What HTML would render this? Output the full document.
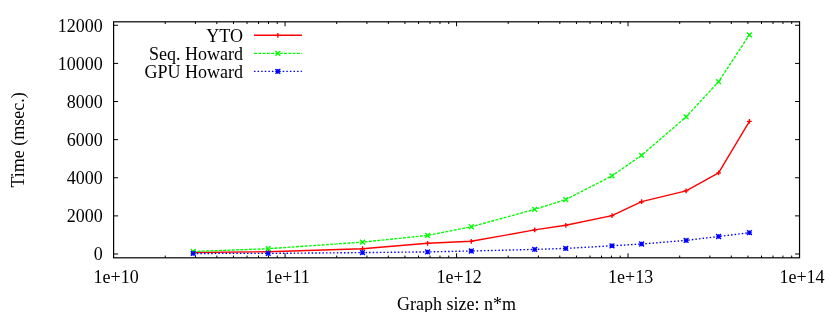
<!DOCTYPE html>
<html><head><meta charset="utf-8"><title>plot</title>
<style>
html,body{margin:0;padding:0;background:#fff;}
body{width:830px;height:312px;overflow:hidden;}
svg{display:block;will-change:transform;}
text{font-family:"Liberation Serif",serif;font-size:18.0px;fill:#000;}
</style></head><body>
<svg width="830" height="312" viewBox="0 0 830 312">
<rect width="830" height="312" fill="#fff"/>
<path d="M113.6 254.00h4.5M799.55 254.00h-4.5M113.6 215.88h4.5M799.55 215.88h-4.5M113.6 177.76h4.5M799.55 177.76h-4.5M113.6 139.64h4.5M799.55 139.64h-4.5M113.6 101.52h4.5M799.55 101.52h-4.5M113.6 63.40h4.5M799.55 63.40h-4.5M113.6 25.28h4.5M799.55 25.28h-4.5M165.22 257.8v-2.25M165.22 21.8v2.25M195.42 257.8v-2.25M195.42 21.8v2.25M216.85 257.8v-2.25M216.85 21.8v2.25M233.46 257.8v-2.25M233.46 21.8v2.25M247.04 257.8v-2.25M247.04 21.8v2.25M258.52 257.8v-2.25M258.52 21.8v2.25M268.47 257.8v-2.25M268.47 21.8v2.25M277.24 257.8v-2.25M277.24 21.8v2.25M285.09 257.8v-4.5M285.09 21.8v4.5M336.71 257.8v-2.25M336.71 21.8v2.25M366.91 257.8v-2.25M366.91 21.8v2.25M388.33 257.8v-2.25M388.33 21.8v2.25M404.95 257.8v-2.25M404.95 21.8v2.25M418.53 257.8v-2.25M418.53 21.8v2.25M430.01 257.8v-2.25M430.01 21.8v2.25M439.96 257.8v-2.25M439.96 21.8v2.25M448.73 257.8v-2.25M448.73 21.8v2.25M456.57 257.8v-4.5M456.57 21.8v4.5M508.20 257.8v-2.25M508.20 21.8v2.25M538.40 257.8v-2.25M538.40 21.8v2.25M559.82 257.8v-2.25M559.82 21.8v2.25M576.44 257.8v-2.25M576.44 21.8v2.25M590.02 257.8v-2.25M590.02 21.8v2.25M601.50 257.8v-2.25M601.50 21.8v2.25M611.44 257.8v-2.25M611.44 21.8v2.25M620.22 257.8v-2.25M620.22 21.8v2.25M628.06 257.8v-4.5M628.06 21.8v4.5M679.69 257.8v-2.25M679.69 21.8v2.25M709.88 257.8v-2.25M709.88 21.8v2.25M731.31 257.8v-2.25M731.31 21.8v2.25M747.93 257.8v-2.25M747.93 21.8v2.25M761.51 257.8v-2.25M761.51 21.8v2.25M772.99 257.8v-2.25M772.99 21.8v2.25M782.93 257.8v-2.25M782.93 21.8v2.25M791.70 257.8v-2.25M791.70 21.8v2.25" stroke="#000" stroke-width="1" fill="none"/>
<rect x="113.6" y="21.8" width="685.9499999999999" height="236.0" fill="none" stroke="#000" stroke-width="1.2"/>
<text x="102.8" y="260.40" text-anchor="end">0</text>
<text x="102.8" y="222.18" text-anchor="end">2000</text>
<text x="102.8" y="184.01" text-anchor="end">4000</text>
<text x="102.8" y="145.89" text-anchor="end">6000</text>
<text x="102.8" y="108.42" text-anchor="end">8000</text>
<text x="102.8" y="70.30" text-anchor="end">10000</text>
<text x="102.8" y="32.48" text-anchor="end">12000</text>
<text x="116.10" y="282.6" text-anchor="middle">1e+10</text>
<text x="287.59" y="282.6" text-anchor="middle">1e+11</text>
<text x="459.07" y="282.6" text-anchor="middle">1e+12</text>
<text x="630.56" y="282.6" text-anchor="middle">1e+13</text>
<text x="802.05" y="282.6" text-anchor="middle">1e+14</text>
<text x="456.6" y="309.6" text-anchor="middle">Graph size: n*m</text>
<text transform="translate(24,139.9) rotate(-90)" text-anchor="middle">Time (msec.)</text>
<text x="242.9" y="42.00" text-anchor="end">YTO</text>
<text x="242.9" y="60.20" text-anchor="end">Seq. Howard</text>
<text x="242.9" y="78.30" text-anchor="end">GPU Howard</text>
<path d="M193.20 252.50L268.20 251.70L362.50 248.70L427.60 243.30L471.30 241.30L534.70 229.90L565.80 225.30L612.00 215.60L641.60 201.70L686.10 190.90L718.60 172.90L749.40 121.30M254.0 35.3H301.9" stroke="#ff0000" stroke-width="1.38" fill="none" stroke-linejoin="round"/>
<path d="M190.80 252.50h4.8M193.20 250.10v4.8M265.80 251.70h4.8M268.20 249.30v4.8M360.10 248.70h4.8M362.50 246.30v4.8M425.20 243.30h4.8M427.60 240.90v4.8M468.90 241.30h4.8M471.30 238.90v4.8M532.30 229.90h4.8M534.70 227.50v4.8M563.40 225.30h4.8M565.80 222.90v4.8M609.60 215.60h4.8M612.00 213.20v4.8M639.20 201.70h4.8M641.60 199.30v4.8M683.70 190.90h4.8M686.10 188.50v4.8M716.20 172.90h4.8M718.60 170.50v4.8M747.00 121.30h4.8M749.40 118.90v4.8M277.85 32.9v4.8" stroke="#ff0000" stroke-width="1.35" fill="none"/>
<path d="M193.20 251.50L268.20 248.70L362.50 242.15L427.60 235.40L471.30 226.75L534.70 209.35L565.80 199.55L612.00 175.90L641.60 155.30L686.10 116.90L718.60 81.70L749.40 34.80M254.0 53.35H301.9" stroke="#00ff00" stroke-width="1.38" fill="none" stroke-dasharray="2.95 1.34" stroke-linejoin="round"/>
<path d="M190.80 249.10l4.8 4.8M190.80 253.90l4.8 -4.8M265.80 246.30l4.8 4.8M265.80 251.10l4.8 -4.8M360.10 239.75l4.8 4.8M360.10 244.55l4.8 -4.8M425.20 233.00l4.8 4.8M425.20 237.80l4.8 -4.8M468.90 224.35l4.8 4.8M468.90 229.15l4.8 -4.8M532.30 206.95l4.8 4.8M532.30 211.75l4.8 -4.8M563.40 197.15l4.8 4.8M563.40 201.95l4.8 -4.8M609.60 173.50l4.8 4.8M609.60 178.30l4.8 -4.8M639.20 152.90l4.8 4.8M639.20 157.70l4.8 -4.8M683.70 114.50l4.8 4.8M683.70 119.30l4.8 -4.8M716.20 79.30l4.8 4.8M716.20 84.10l4.8 -4.8M747.00 32.40l4.8 4.8M747.00 37.20l4.8 -4.8M275.45 50.95l4.8 4.8M275.45 55.75l4.8 -4.8" stroke="#00ff00" stroke-width="1.35" fill="none"/>
<path d="M193.20 253.45L268.20 253.40L362.50 252.60L427.60 251.90L471.30 251.00L534.70 249.40L565.80 248.40L612.00 245.80L641.60 244.00L686.10 240.40L718.60 236.50L749.40 232.70M254.0 71.35H301.9" stroke="#0000ff" stroke-width="1.38" fill="none" stroke-dasharray="1.5 2.09" stroke-linejoin="round"/>
<path d="M190.95 253.45h4.5M193.20 251.20v4.5M190.80 251.05l4.8 4.8M190.80 255.85l4.8 -4.8M265.95 253.40h4.5M268.20 251.15v4.5M265.80 251.00l4.8 4.8M265.80 255.80l4.8 -4.8M360.25 252.60h4.5M362.50 250.35v4.5M360.10 250.20l4.8 4.8M360.10 255.00l4.8 -4.8M425.35 251.90h4.5M427.60 249.65v4.5M425.20 249.50l4.8 4.8M425.20 254.30l4.8 -4.8M469.05 251.00h4.5M471.30 248.75v4.5M468.90 248.60l4.8 4.8M468.90 253.40l4.8 -4.8M532.45 249.40h4.5M534.70 247.15v4.5M532.30 247.00l4.8 4.8M532.30 251.80l4.8 -4.8M563.55 248.40h4.5M565.80 246.15v4.5M563.40 246.00l4.8 4.8M563.40 250.80l4.8 -4.8M609.75 245.80h4.5M612.00 243.55v4.5M609.60 243.40l4.8 4.8M609.60 248.20l4.8 -4.8M639.35 244.00h4.5M641.60 241.75v4.5M639.20 241.60l4.8 4.8M639.20 246.40l4.8 -4.8M683.85 240.40h4.5M686.10 238.15v4.5M683.70 238.00l4.8 4.8M683.70 242.80l4.8 -4.8M716.35 236.50h4.5M718.60 234.25v4.5M716.20 234.10l4.8 4.8M716.20 238.90l4.8 -4.8M747.15 232.70h4.5M749.40 230.45v4.5M747.00 230.30l4.8 4.8M747.00 235.10l4.8 -4.8M275.45 71.35h4.8M277.85 68.95v4.8M275.45 68.95l4.8 4.8M275.45 73.75l4.8 -4.8" stroke="#0000ff" stroke-width="1.35" fill="none"/>
</svg>
</body></html>
